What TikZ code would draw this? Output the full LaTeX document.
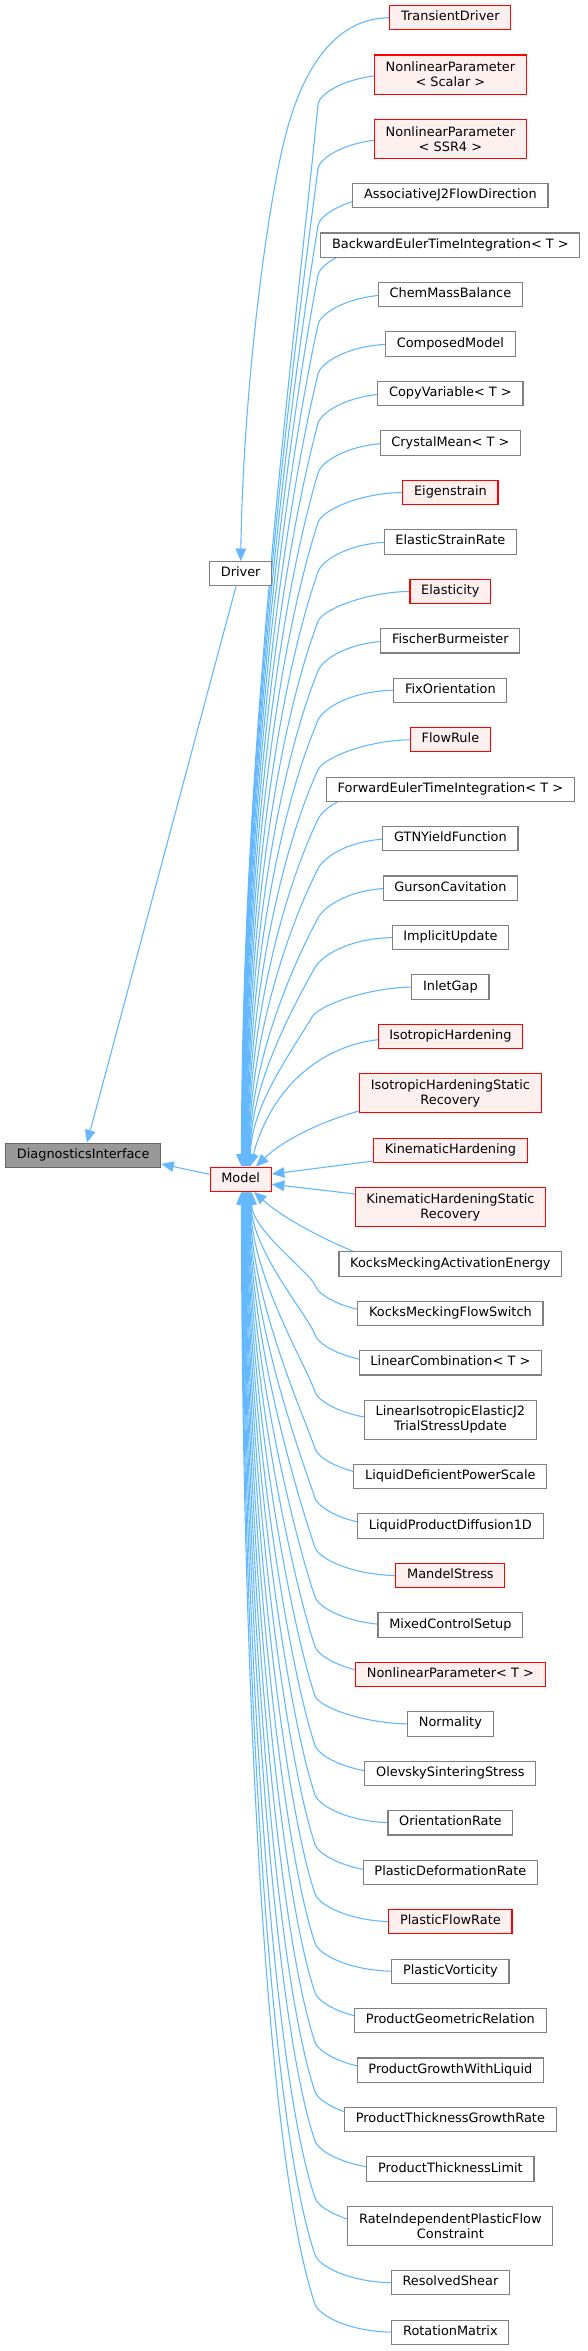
\documentclass[tikz,border=0pt]{standalone}
\usepackage{fontspec}
\setmainfont{DejaVu Sans}
\usetikzlibrary{calc,arrows.meta}
\pgfdeclarelayer{bg}
\pgfsetlayers{bg,main}
\definecolor{inhblue}{HTML}{63B8FF}
\definecolor{redfill}{HTML}{FFF0F0}
\definecolor{nodegray}{HTML}{808080}
\definecolor{difill}{HTML}{999999}
\definecolor{diborder}{HTML}{666666}
\newcommand{\dxfont}{\fontsize{12.9pt}{14.8pt}\selectfont}
\begin{document}
\begin{tikzpicture}[x=1pt,y=1pt,
  dbox/.style={draw, line width=1.1pt, inner xsep=11.25pt, inner ysep=0pt, font=\dxfont, anchor=center},
  oneline/.style={dbox, minimum height=24.3pt, text height=9.4pt, text depth=3.3pt},
  twoline/.style={dbox, minimum height=39.1pt, align=center},
  plain/.style={draw=nodegray, fill=white},
  redn/.style={draw=red, fill=redfill},
  grayn/.style={draw=diborder, fill=difill},
  inh/.style={draw=inhblue, line width=1.1pt, -{Triangle[length=12.5pt,width=10.5pt]}}
]
\useasboundingbox (0,0) rectangle (587,-2351);

% left column
\node[oneline,grayn] (DI) at (83.2,-1155.3) {DiagnosticsInterface};
\node[oneline,plain] (Driver) at (240.7,-573.7) {Driver};
\node[oneline,redn] (Model) at (240.7,-1179.2) {Model};

% right column
\node[oneline,redn] (n1) at (450.4,-17.7) {TransientDriver};
\node[twoline,redn] (n2) at (450.4,-74.56) {NonlinearParameter\\< Scalar >};
\node[twoline,redn] (n3) at (450.4,-138.82) {NonlinearParameter\\< SSR4 >};
\node[oneline,plain] (n4) at (450.4,-195.68) {AssociativeJ2FlowDirection};
\node[oneline,plain] (n5) at (450.4,-245.14) {BackwardEulerTimeIntegration< T >};
\node[oneline,plain] (n6) at (450.4,-294.6) {ChemMassBalance};
\node[oneline,plain] (n7) at (450.4,-344.06) {ComposedModel};
\node[oneline,plain] (n8) at (450.4,-393.52) {CopyVariable< T >};
\node[oneline,plain] (n9) at (450.4,-442.98) {CrystalMean< T >};
\node[oneline,redn] (n10) at (450.4,-492.44) {Eigenstrain};
\node[oneline,plain] (n11) at (450.4,-541.9) {ElasticStrainRate};
\node[oneline,redn] (n12) at (450.4,-591.36) {Elasticity};
\node[oneline,plain] (n13) at (450.4,-640.82) {FischerBurmeister};
\node[oneline,plain] (n14) at (450.4,-690.28) {FixOrientation};
\node[oneline,redn] (n15) at (450.4,-739.74) {FlowRule};
\node[oneline,plain] (n16) at (450.4,-789.2) {ForwardEulerTimeIntegration< T >};
\node[oneline,plain] (n17) at (450.4,-838.66) {GTNYieldFunction};
\node[oneline,plain] (n18) at (450.4,-888.12) {GursonCavitation};
\node[oneline,plain] (n19) at (450.4,-937.58) {ImplicitUpdate};
\node[oneline,plain] (n20) at (450.4,-987.04) {InletGap};
\node[oneline,redn] (n21) at (450.4,-1036.5) {IsotropicHardening};
\node[twoline,redn] (n22) at (450.4,-1093.36) {IsotropicHardeningStatic\\Recovery};
\node[oneline,redn] (n23) at (450.4,-1150.22) {KinematicHardening};
\node[twoline,redn] (n24) at (450.4,-1207.08) {KinematicHardeningStatic\\Recovery};
\node[oneline,plain] (n25) at (450.4,-1263.94) {KocksMeckingActivationEnergy};
\node[oneline,plain] (n26) at (450.4,-1313.4) {KocksMeckingFlowSwitch};
\node[oneline,plain] (n27) at (450.4,-1362.86) {LinearCombination< T >};
\node[twoline,plain] (n28) at (450.4,-1419.72) {LinearIsotropicElasticJ2\\TrialStressUpdate};
\node[oneline,plain] (n29) at (450.4,-1476.58) {LiquidDeficientPowerScale};
\node[oneline,plain] (n30) at (450.4,-1526.04) {LiquidProductDiffusion1D};
\node[oneline,redn] (n31) at (450.4,-1575.5) {MandelStress};
\node[oneline,plain] (n32) at (450.4,-1624.96) {MixedControlSetup};
\node[oneline,redn] (n33) at (450.4,-1674.42) {NonlinearParameter< T >};
\node[oneline,plain] (n34) at (450.4,-1723.88) {Normality};
\node[oneline,plain] (n35) at (450.4,-1773.34) {OlevskySinteringStress};
\node[oneline,plain] (n36) at (450.4,-1822.8) {OrientationRate};
\node[oneline,plain] (n37) at (450.4,-1872.26) {PlasticDeformationRate};
\node[oneline,redn] (n38) at (450.4,-1921.72) {PlasticFlowRate};
\node[oneline,plain] (n39) at (450.4,-1971.18) {PlasticVorticity};
\node[oneline,plain] (n40) at (450.4,-2020.64) {ProductGeometricRelation};
\node[oneline,plain] (n41) at (450.4,-2070.1) {ProductGrowthWithLiquid};
\node[oneline,plain] (n42) at (450.4,-2119.56) {ProductThicknessGrowthRate};
\node[oneline,plain] (n43) at (450.4,-2169.02) {ProductThicknessLimit};
\node[twoline,plain] (n44) at (450.4,-2225.88) {RateIndependentPlasticFlow\\Constraint};
\node[oneline,plain] (n45) at (450.4,-2282.74) {ResolvedShear};
\node[oneline,plain] (n46) at (450.4,-2332.2) {RotationMatrix};

\begin{pgfonlayer}{bg}
% Driver and Model to DiagnosticsInterface
\draw[inh] ($(Driver.south)+(-4.7,0)$) -- ($(DI.north)+(3.8,0)$);
\draw[inh] ($(Model.west)+(0,4.9)$) -- ($(DI.east)+(0,-8.7)$);
% TransientDriver to Driver
\draw[inh] (n1.west) .. controls (340,-18) and (302,-60) .. (282,-150)
  .. controls (264,-230) and (243,-400) .. (Driver.north);

% children above Model
\foreach \i/\yc in {2/74.56,3/138.82,4/195.68,5/245.14,6/294.6,7/344.06,8/393.52,
  9/442.98,10/492.44,11/541.9,12/591.36,13/640.82,14/690.28,15/739.74,16/789.2,
  17/838.66,18/888.12,19/937.58,20/987.04}{
  \pgfmathsetmacro\exs{241.5+(\i-2)*0.5}
  \pgfmathsetmacro\eMy{\yc+30}
  \pgfmathsetmacro\eL{1166.5-\eMy}
  \pgfmathsetmacro\eMx{318-0.06*max(0,250-\eL)}
  \pgfmathsetmacro\ek{0.1+0.00054*(1058-\eL)}
  \pgfmathsetmacro\eay{1166.5-0.4*\eL}
  \pgfmathsetmacro\ebx{\eMx-\ek*0.22*\eL}
  \pgfmathsetmacro\eby{\eMy+0.22*\eL}
  \pgfmathsetmacro\ecx{\eMx+12*\ek}
  \pgfmathsetmacro\ecy{\eMy-12}
  \pgfmathsetmacro\edx{\exs-240.7}
  \path let \p1=(n\i.west) in ({max(\x1,392pt)+3pt},\y1) coordinate (T);
  \draw[inh] (T) .. controls +(-45,0) and (\ecx,-\ecy) .. (\eMx,-\eMy)
    .. controls (\ebx,-\eby) and (\exs,-\eay) .. ($(Model.north)+(\edx,0)$);
}
% near children
\draw[inh] ($(n21.west)+(10,-2.5)$) .. controls (335,-1041) and (275,-1075) .. ($(Model.north)+(9.3,0)$);
\draw[inh] ($(n22.south west)+(6,4)$) .. controls (330,-1118) and (285,-1138) .. ($(Model.north)+(15.3,0)$);
\draw[inh] ($(n23.south west)+(5,2.5)$) -- ($(Model.east)+(0,5.2)$);
\draw[inh] ($(n24.north west)+(5,-7.5)$) -- ($(Model.east)+(0,-5.1)$);
\draw[inh] ($(n25.north west)+(25,-4)$) .. controls (335,-1245) and (285,-1220) .. ($(Model.south)+(13.3,0)$);

% children below Model
\foreach \i/\yc in {26/1313.4,27/1362.86,28/1419.72,29/1476.58,30/1526.04,31/1575.5,
  32/1624.96,33/1674.42,34/1723.88,35/1773.34,36/1822.8,37/1872.26,38/1921.72,
  39/1971.18,40/2020.64,41/2070.1,42/2119.56,43/2169.02,44/2225.88,45/2282.74,46/2332.2}{
  \pgfmathsetmacro\exs{241.5+(46-\i)*0.5}
  \pgfmathsetmacro\eMy{\yc-28}
  \pgfmathsetmacro\eL{\eMy-1191.9}
  \pgfmathsetmacro\eMx{315}
  \pgfmathsetmacro\eay{1191.9+0.41*\eL}
  \pgfmathsetmacro\ebx{\eMx-0.34*0.135*\eL}
  \pgfmathsetmacro\eby{\eMy-0.135*\eL}
  \pgfmathsetmacro\ecx{\eMx+4}
  \pgfmathsetmacro\ecy{\eMy+11.5}
  \pgfmathsetmacro\edx{\exs-240.7}
  \path let \p1=(n\i.west) in ({max(\x1,392pt)+3pt},\y1) coordinate (T);
  \draw[inh] (T) .. controls +(-45,0) and (\ecx,-\ecy) .. (\eMx,-\eMy)
    .. controls (\ebx,-\eby) and (\exs,-\eay) .. ($(Model.south)+(\edx,0)$);
}
\end{pgfonlayer}
\end{tikzpicture}
\end{document}
